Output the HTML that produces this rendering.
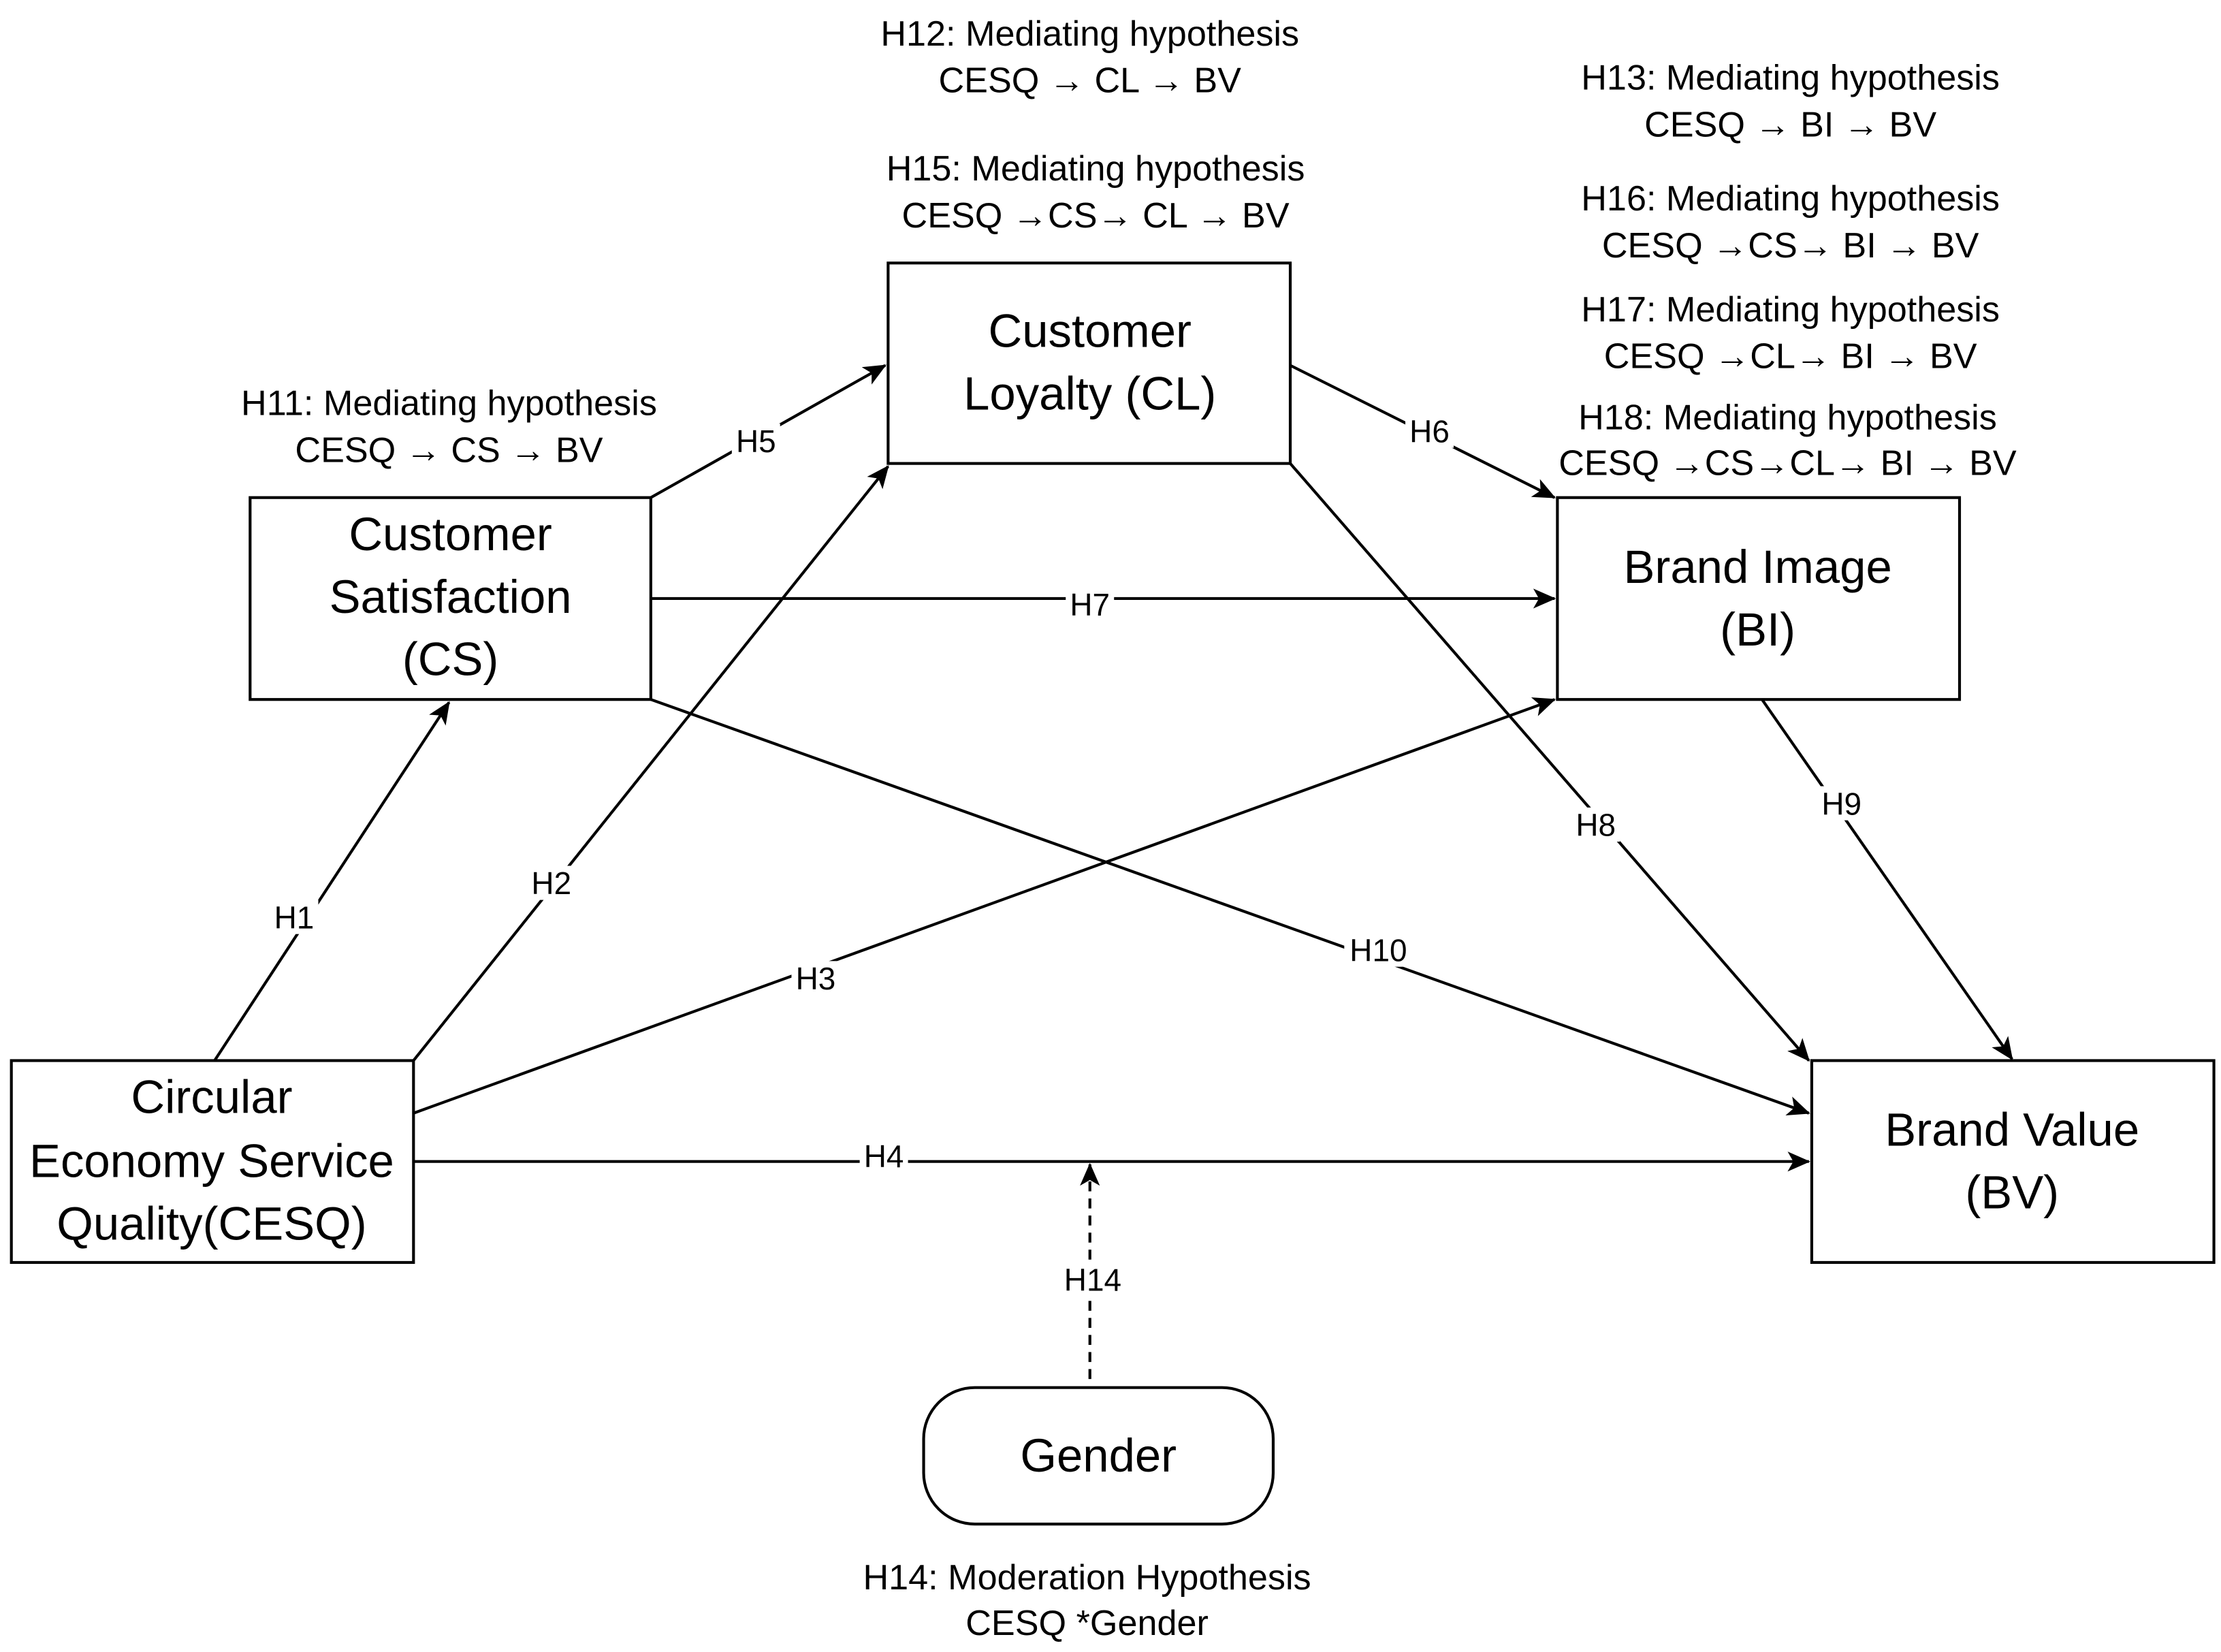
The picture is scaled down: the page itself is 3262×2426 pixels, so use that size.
<!DOCTYPE html>
<html><head><meta charset="utf-8"><style>html,body{margin:0;padding:0;background:#fff}svg{display:block}</style></head>
<body>
<svg width="3262" height="2426" viewBox="0 0 1563 1162" preserveAspectRatio="none" xmlns="http://www.w3.org/2000/svg" font-family="Liberation Sans, sans-serif">
<defs>
<marker id="a" markerWidth="16" markerHeight="14" refX="15" refY="7" orient="auto" markerUnits="userSpaceOnUse" viewBox="0 0 16 14">
<path d="M0,0 L16,7 L0,14 L4,7 z" fill="#000"/></marker>
</defs>
<g stroke="#000" stroke-width="2" fill="none">
<rect x="176" y="350" width="282" height="142"/>
<rect x="625" y="185" width="283" height="141"/>
<rect x="1096" y="350" width="283" height="142"/>
<rect x="8" y="746" width="283" height="142"/>
<rect x="1275" y="746" width="283" height="142"/>
<rect x="650" y="976" width="246" height="96" rx="36"/>
</g>
<g stroke="#000" stroke-width="2" fill="none" marker-end="url(#a)">
<line x1="151" y1="746" x2="316" y2="494"/>
<line x1="291" y1="746" x2="625" y2="328"/>
<line x1="291" y1="783" x2="1094" y2="492"/>
<line x1="291" y1="817" x2="1273" y2="817"/>
<line x1="458" y1="350" x2="623" y2="257"/>
<line x1="908" y1="257" x2="1094" y2="350"/>
<line x1="458" y1="421" x2="1094" y2="421"/>
<line x1="908" y1="326" x2="1273" y2="746"/>
<line x1="1240" y1="492" x2="1416" y2="745"/>
<line x1="458" y1="492" x2="1273" y2="783"/>
<line x1="767" y1="970" x2="767" y2="819" stroke-dasharray="7,5"/>
</g>
<g font-size="22" text-anchor="middle" fill="#000">
<rect x="190" y="633" width="34" height="24" fill="#fff"/><text x="207" y="653">H1</text>
<rect x="371" y="609" width="34" height="24" fill="#fff"/><text x="388" y="629">H2</text>
<rect x="557" y="676" width="34" height="24" fill="#fff"/><text x="574" y="696">H3</text>
<rect x="605" y="801" width="34" height="24" fill="#fff"/><text x="622" y="821">H4</text>
<rect x="515" y="298" width="34" height="24" fill="#fff"/><text x="532" y="318">H5</text>
<rect x="989" y="291" width="34" height="24" fill="#fff"/><text x="1006" y="311">H6</text>
<rect x="750" y="413" width="34" height="24" fill="#fff"/><text x="767" y="433">H7</text>
<rect x="1106" y="568" width="34" height="24" fill="#fff"/><text x="1123" y="588">H8</text>
<rect x="1279" y="553" width="34" height="24" fill="#fff"/><text x="1296" y="573">H9</text>
<rect x="946" y="656" width="48" height="24" fill="#fff"/><text x="970" y="676">H10</text>
<rect x="745" y="888" width="48" height="24" fill="#fff"/><text x="769" y="908">H14</text>
</g>
<g font-size="33" text-anchor="middle" fill="#000">
<text x="317" y="387">Customer</text><text x="317" y="431">Satisfaction</text><text x="317" y="475">(CS)</text>
<text x="767" y="244">Customer</text><text x="767" y="288">Loyalty (CL)</text>
<text x="1237" y="410">Brand Image</text><text x="1237" y="454">(BI)</text>
<text x="149" y="783">Circular</text><text x="149" y="828">Economy Service</text><text x="149" y="872">Quality(CESQ)</text>
<text x="1416" y="806">Brand  Value</text><text x="1416" y="850">(BV)</text>
<text x="773" y="1035">Gender</text>
</g>
<g font-size="25" text-anchor="middle" fill="#000">
<text x="767" y="32">H12: Mediating hypothesis</text><text x="767" y="65">CESQ → CL → BV</text>
<text x="771" y="127">H15: Mediating hypothesis</text><text x="771" y="160">CESQ →CS→ CL → BV</text>
<text x="1260" y="63">H13: Mediating hypothesis</text><text x="1260" y="96">CESQ → BI →  BV</text>
<text x="1260" y="148">H16: Mediating hypothesis</text><text x="1260" y="181">CESQ →CS→ BI →  BV</text>
<text x="1260" y="226">H17: Mediating hypothesis</text><text x="1260" y="259">CESQ →CL→ BI →  BV</text>
<text x="1258" y="302">H18: Mediating hypothesis</text><text x="1258" y="334">CESQ →CS→CL→ BI →  BV</text>
<text x="316" y="292">H11: Mediating hypothesis</text><text x="316" y="325">CESQ → CS → BV</text>
<text x="765" y="1118">H14: Moderation Hypothesis</text><text x="765" y="1150">CESQ *Gender</text>
</g>
</svg>
</body></html>
